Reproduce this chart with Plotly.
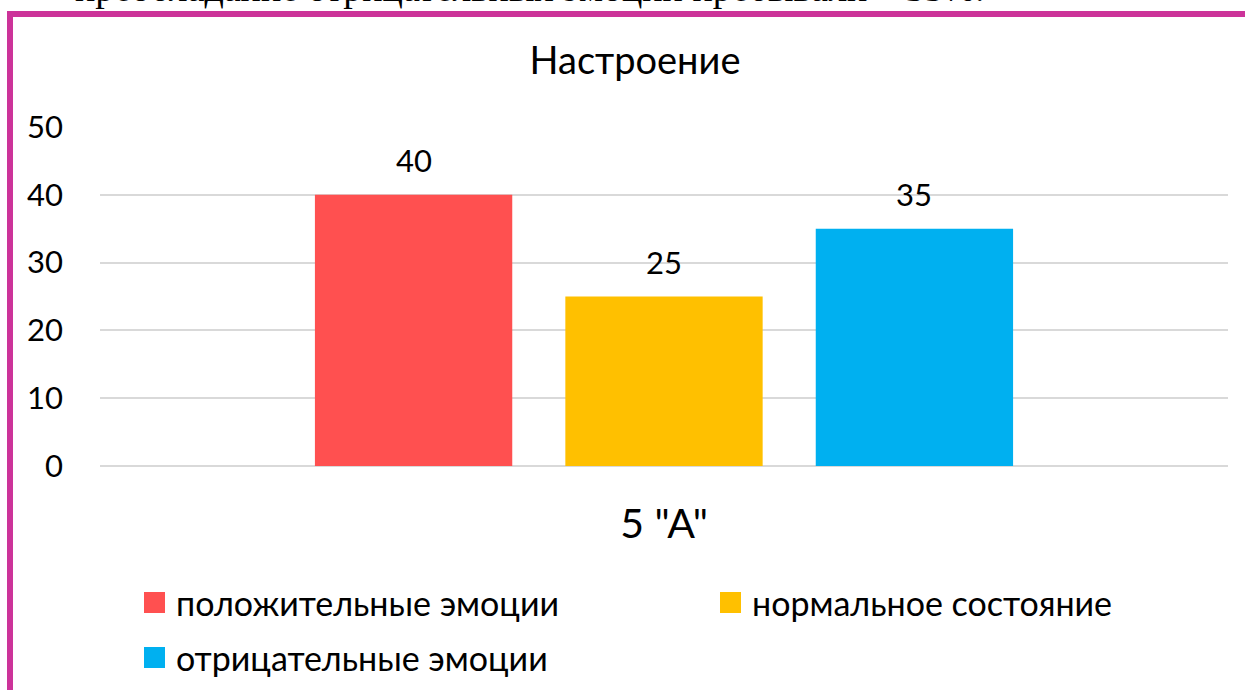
import plotly.graph_objects as go

# ---- data ----
category = ['5 "A"']
series_names = ["положительные эмоции", "нормальное состояние", "отрицательные эмоции"]
series_values = [40, 25, 35]
series_colors = ["#FF5050", "#FFC000", "#00B0F0"]
y_ticks = [0, 10, 20, 30, 40, 50]
chart_title = "Настроение"
page_text = "преобладание отрицательных эмоции пребывали – 35%."

# ---- layout geometry (pixels) ----
W, H = 1245, 690
L, R, T, B = 100, 17, 127, 224
PW = W - L - R
PH = H - T - B


def px(x):
    return (x - L) / PW


def py(y):
    return (H - B - y) / PH


FONT = "Lato, 'Noto Sans', sans-serif"
TXT = "#000000"
BORDER = "#CC3399"
GRID = "#D9D9D9"

fig = go.Figure()
for name, val, col in zip(series_names, series_values, series_colors):
    fig.add_trace(go.Bar(x=category, y=[val], name=name, marker_color=col,
                         marker_line_width=0, showlegend=False, hoverinfo="skip"))

# data labels above bars
slot = 250.3
for i, val in enumerate(series_values):
    fig.add_annotation(x=category[0], y=val, xref="x", yref="y", text=str(val),
                       showarrow=False, xshift=(i - 1) * slot, yshift=35,
                       yanchor="middle", font=dict(family=FONT, size=31, color=TXT))

# custom legend
legend_pos = [(144, 592), (720, 592), (144, 647)]
sw = 21
for (lx, ly), name, col in zip(legend_pos, series_names, series_colors):
    fig.add_shape(type="rect", xref="paper", yref="paper",
                  x0=px(lx), x1=px(lx + sw), y0=py(ly + sw), y1=py(ly),
                  fillcolor=col, line_width=0)
    fig.add_annotation(xref="paper", yref="paper", x=px(lx + sw + 9), y=py(ly + sw / 2),
                       xanchor="left", yanchor="middle", showarrow=False, text=name,
                       font=dict(family=FONT, size=34, color=TXT))

# page text cut at top
fig.add_annotation(xref="paper", yref="paper", x=px(73), y=py(-12), xanchor="left",
                   yanchor="middle", showarrow=False, text=page_text,
                   font=dict(family="'Liberation Serif', 'Times New Roman', serif", size=38, color=TXT))

# frame border
fig.add_shape(type="line", xref="paper", yref="paper", x0=px(10), x1=px(10),
              y0=py(11), y1=py(700), line=dict(color=BORDER, width=6))
fig.add_shape(type="line", xref="paper", yref="paper", x0=px(7), x1=px(1260),
              y0=py(14), y1=py(14), line=dict(color=BORDER, width=6))

fig.update_layout(
    width=W, height=H,
    margin=dict(l=L, r=R, t=T, b=B),
    paper_bgcolor="white", plot_bgcolor="white",
    barmode="group", bargap=0.334, bargroupgap=0.212,
    title=dict(text=chart_title, x=635 / W, xref="container", xanchor="center",
               y=1 - 61 / H, yref="container", yanchor="middle",
               font=dict(family=FONT, size=38, color=TXT)),
    font=dict(family=FONT, color=TXT),
    xaxis=dict(showgrid=False, showline=False, ticks="", ticklabelstandoff=30,
               tickfont=dict(family=FONT, size=41, color=TXT)),
    yaxis=dict(range=[0, 50], tickvals=y_ticks, showgrid=True, gridcolor=GRID,
               gridwidth=1.5, zeroline=True, zerolinecolor=GRID, zerolinewidth=1.5,
               showline=False, ticks="", ticklabelstandoff=36,
               tickfont=dict(family=FONT, size=31, color=TXT)),
)

fig.write_html("out.html", config={"displayModeBar": False},
               post_script="document.body.style.margin='0';")
